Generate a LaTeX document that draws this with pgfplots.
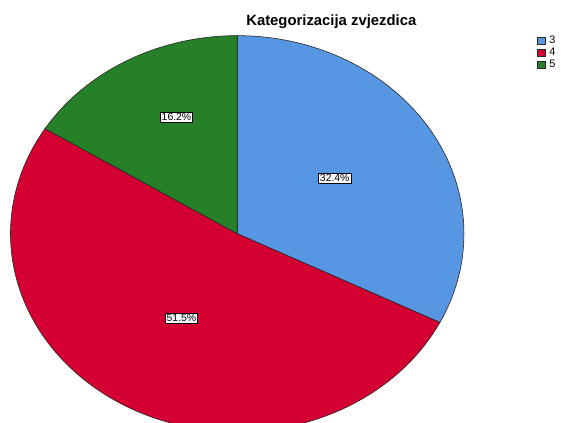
\documentclass[border=0pt]{standalone}
\usepackage{fontspec}
\setmainfont{Liberation Sans}
\usepackage{pgfplots}
\usepackage{pgfplotstable}
\pgfplotsset{compat=1.18}

\definecolor{pieblue}{RGB}{86,150,226}
\definecolor{piered}{RGB}{212,0,50}
\definecolor{piegreen}{RGB}{38,128,40}

% share of each category, in percent (clockwise from 12 o'clock)
\pgfplotstableread{
cat pct
3 32.4
4 51.5
5 16.2
}\piedata

\begin{document}
\pgfplotstablegetelem{0}{pct}\of\piedata\let\pA\pgfplotsretval
\pgfplotstablegetelem{1}{pct}\of\piedata\let\pB\pgfplotsretval
\pgfmathsetmacro\angA{90-3.6*\pA}
\pgfmathsetmacro\angB{\angA-3.6*\pB}
\begin{tikzpicture}
\begin{axis}[
    width=561pt, height=427pt,
    scale only axis,
    hide axis,
    clip=true,
    xmin=-1.022, xmax=1.428,
    ymin=-0.955, ymax=1.18,
    legend style={draw=none, fill=none, font=\fontsize{11}{12}\selectfont,
        at={(rel axis cs:0.957,0.92)}, anchor=north west,
        inner sep=0pt, row sep=-1pt,
        /tikz/every odd column/.append style={column sep=1.5pt}},
    legend cell align=left,
    legend image code/.code={\path[#1] (0pt,-3.5pt) rectangle (8pt,3.5pt);},
]
\addplot[fill=pieblue, draw=black!85, line width=0.6pt, domain=\angA:90, samples=150, variable=\t]
    ({cos(t)},{sin(t)}) -- (axis cs:0,0) -- cycle;
\addlegendentry{3}
\addplot[fill=piered, draw=black!85, line width=0.6pt, domain=\angB:\angA, samples=200, variable=\t]
    ({cos(t)},{sin(t)}) -- (axis cs:0,0) -- cycle;
\addlegendentry{4}
\addplot[fill=piegreen, draw=black!85, line width=0.6pt, domain=-270:\angB, samples=100, variable=\t]
    ({cos(t)},{sin(t)}) -- (axis cs:0,0) -- cycle;
\addlegendentry{5}
\node[draw=black, fill=white, inner sep=1.3pt, font=\fontsize{10.5}{11}\selectfont] at (axis cs:0.43,0.28) {32.4\%};
\node[draw=black, fill=white, inner sep=1.3pt, font=\fontsize{10.5}{11}\selectfont] at (axis cs:-0.246,-0.425) {51.5\%};
\node[draw=black, fill=white, inner sep=1.3pt, font=\fontsize{10.5}{11}\selectfont] at (axis cs:-0.268,0.59) {16.2\%};
\node[anchor=base, font=\bfseries\fontsize{15}{17}\selectfont] at (axis cs:0.415,1.05) {Kategorizacija zvjezdica};
\end{axis}
\pgfresetboundingbox
\path[use as bounding box] (current axis.south west) rectangle (current axis.north east);
\end{tikzpicture}
\end{document}
